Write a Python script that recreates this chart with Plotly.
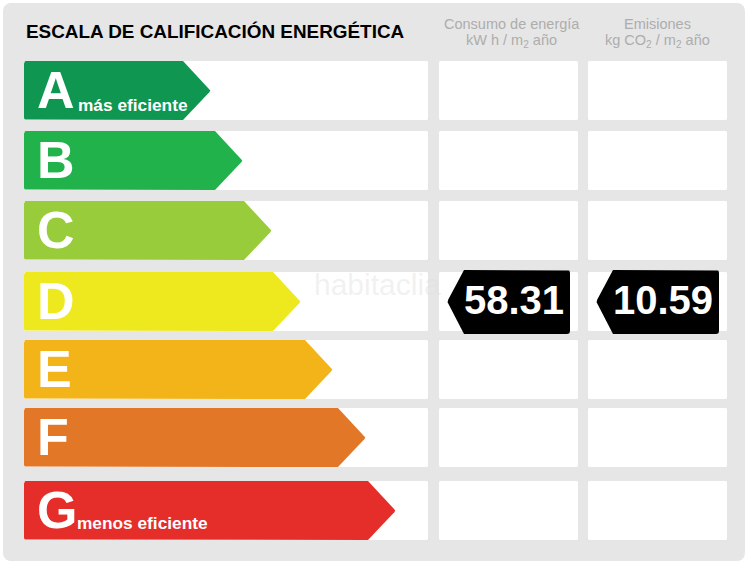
import numpy as np
import plotly.graph_objects as go

grades = ["A", "B", "C", "D", "E", "F", "G"]
bar_lengths = [187, 219, 248, 277, 309, 342, 372]
grade_notes = ["más eficiente", "", "", "", "", "", "menos eficiente"]
grade_colors = ["#0F9650", "#22B24C", "#99CC3A", "#EEE81E", "#F2B418", "#E27728", "#E52E2A"]
consumo_value = "58.31"
emisiones_value = "10.59"
rated_grade = "D"

title = "ESCALA DE CALIFICACIÓN ENERGÉTICA"
consumo_header = ["Consumo de energía", "kW h / m<sub>2</sub> año"]
emisiones_header = ["Emisiones", "kg CO<sub>2</sub> / m<sub>2</sub> año"]

# layout, in page pixels
W, H = 754, 568
row_tops = [61, 131, 201, 272, 340, 408, 481]
row_h = 60
left_x = 24
col_left = (24, 428)
col_mid = (439, 578)
col_right = (588, 727)
head = 28
FONT = "Liberation Sans, Arial, sans-serif"


def rounded(pts, r):
    # polygon with small arcs on the corners listed with r > 0
    out = []
    n = len(pts)
    for i, (x, y, c) in enumerate(pts):
        if not c:
            out.append((x, y))
            continue
        p = np.array([x, y], float)
        a = np.array(pts[i - 1][:2], float) - p
        b = np.array(pts[(i + 1) % n][:2], float) - p
        a = a / np.linalg.norm(a)
        b = b / np.linalg.norm(b)
        for t in np.linspace(0, 1, 6):
            q = (1 - t) ** 2 * (p + a * r) + 2 * t * (1 - t) * p + t ** 2 * (p + b * r)
            out.append(tuple(q))
    out.append(out[0])
    return [q[0] for q in out], [q[1] for q in out]


def poly(fig, pts, color, r=2.5):
    xs, ys = rounded(pts, r)
    fig.add_trace(go.Scatter(x=xs, y=ys, mode="lines", fill="toself", fillcolor=color,
                             line=dict(width=0, color=color), hoverinfo="skip"))


def box(fig, x0, x1, y0, y1, color, r=1.5):
    poly(fig, [(x0, y0, 1), (x1, y0, 1), (x1, y1, 1), (x0, y1, 1)], color, r)


def label(fig, x, y, text, size, color, pos="middle center"):
    fig.add_trace(go.Scatter(x=[x], y=[y], mode="text", text=[text], textposition=pos,
                             textfont=dict(size=size, color=color, family=FONT, weight=700),
                             hoverinfo="skip"))


fig = go.Figure()
box(fig, 3, 745, 3, 561, "#E6E6E6", r=9)

for top in row_tops:
    for col in (col_left, col_mid, col_right):
        box(fig, col[0], col[1], top, top + row_h - 1, "#FFFFFF")

for top, g, length, note, color in zip(row_tops, grades, bar_lengths, grade_notes, grade_colors):
    tip = left_x + length
    mid = top + (row_h - 1) / 2
    bottom = top + row_h - 1
    poly(fig, [(left_x, top, 1), (tip - head, top, 0), (tip, mid, 1),
               (tip - head, bottom, 0), (left_x, bottom, 1)], color, r=2.5)
    label(fig, 37, mid + 4, g, 52, "#FFFFFF", pos="middle right")
    if note:
        label(fig, 77 if g == "G" else 78, mid + (14 if g == "G" else 16), note, 17.3, "#FFFFFF", pos="middle right")

# rated values
i = grades.index(rated_grade)
tag_top, tag_bottom = row_tops[i] - 2, row_tops[i] + row_h + 2
tag_mid = (tag_top + tag_bottom) / 2
for x0, x1, val in [(447, 570, consumo_value), (596, 719, emisiones_value)]:
    poly(fig, [(x0 + 17, tag_top, 0), (x1, tag_top, 1), (x1, tag_bottom, 1),
               (x0 + 17, tag_bottom, 0), (x0, tag_mid, 1)], "#000000", r=3)
    label(fig, (x0 + 17 + x1) / 2 - 3, tag_mid + 2, val, 40, "#FFFFFF")

fig.add_annotation(x=24, y=31.5, text="<b>" + title + "</b>", xanchor="left", yanchor="middle",
                   showarrow=False, font=dict(size=18.9, color="#000000", family=FONT))
for cx, lines in [(511.5, consumo_header), (657.5, emisiones_header)]:
    for y, txt in zip((24, 41), lines):
        fig.add_annotation(x=cx, y=y, text=txt, xanchor="center", yanchor="middle", showarrow=False,
                           font=dict(size=14.5, color="#ADADAD", family=FONT))
fig.add_annotation(x=312, y=284, text="habitaclia", xanchor="left", yanchor="middle", showarrow=False,
                   font=dict(size=30, color="rgba(225,225,225,0.45)", family=FONT))

fig.update_layout(width=W, height=H, margin=dict(l=0, r=0, t=0, b=0), showlegend=False,
                  paper_bgcolor="#FFFFFF", plot_bgcolor="#FFFFFF")
fig.update_xaxes(range=[0, W], visible=False, fixedrange=True)
fig.update_yaxes(range=[H, 0], visible=False, fixedrange=True)

fig.write_html("out.html", config={"displayModeBar": False},
               post_script="document.body.style.margin='0';")
